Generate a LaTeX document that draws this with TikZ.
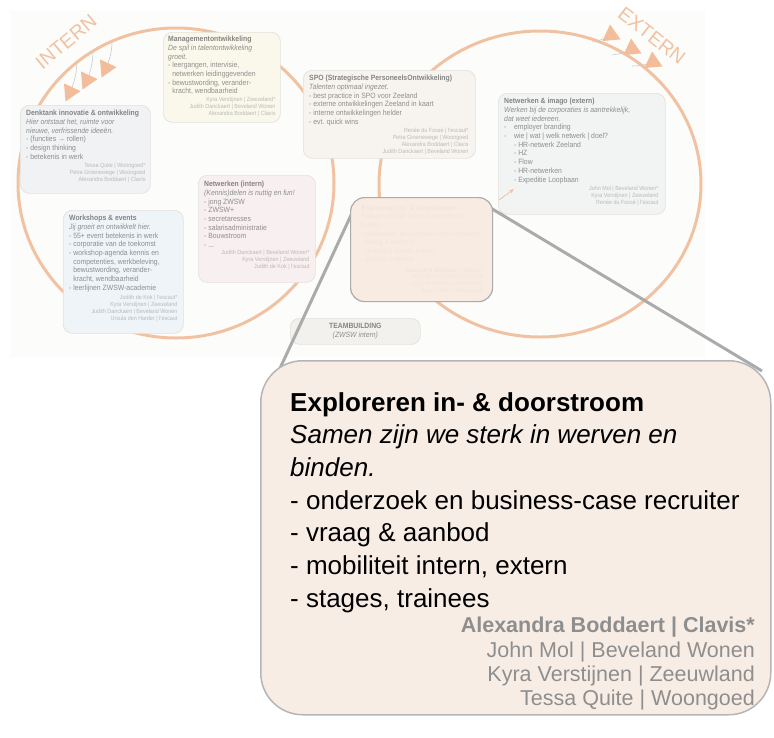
\documentclass[tikz,border=0pt]{standalone}
\usepackage{fontspec}
\setmainfont{Liberation Sans}
\newfontfamily\narrowsans[FakeStretch=0.9]{Liberation Sans}
\usetikzlibrary{shapes.geometric,arrows.meta}
\definecolor{orng}{HTML}{F1C2A2}
\definecolor{trif}{HTML}{F3BD9C}
\definecolor{stemc}{HTML}{C6CCD4}
\definecolor{boxline}{HTML}{E3E1DD}
\definecolor{ttlc}{HTML}{848484}
\definecolor{bodyc}{HTML}{8E8E8E}
\definecolor{namec}{HTML}{BABABA}
\definecolor{peach}{HTML}{F8EDE5}
\definecolor{zoompeach}{HTML}{F8ECE2}
\definecolor{linegrey}{HTML}{ABABAB}
\definecolor{bigline}{HTML}{B5B5B5}
\definecolor{namebig}{HTML}{8E8E8E}
\definecolor{faintc}{HTML}{F3E4D9}
\definecolor{bgc}{HTML}{FCFCFB}
\definecolor{mgmtf}{HTML}{FAF8EA}
\definecolor{denkf}{HTML}{F0F2F3}
\definecolor{spof}{HTML}{F7F4F0}
\definecolor{imagof}{HTML}{F2F3F3}
\definecolor{workf}{HTML}{EEF4F8}
\definecolor{netf}{HTML}{F8F0F0}
\definecolor{teamf}{HTML}{F3F1ED}
\newcommand\boxtitle[1]{{\bfseries\color{ttlc}#1}}
\begin{document}
\begin{tikzpicture}[x=1pt,y=-1pt,
  infobox/.style={draw=boxline, line width=0.7pt, rounded corners=9pt, anchor=north west, inner sep=0pt},
  infotext/.style={anchor=north west, align=left, inner sep=0pt, text=bodyc, font=\narrowsans\fontsize{7.6}{8.7}\selectfont},
  infonames/.style={anchor=north east, align=right, inner sep=0pt, text=namec, font=\narrowsans\fontsize{6}{7}\selectfont},
  tri/.style={regular polygon, regular polygon sides=3, fill=trif, inner sep=0pt, minimum size=21pt},
  stemline/.style={draw=stemc, line width=0.6pt},
  ring/.style={draw=orng, line width=3pt},
  zoomline/.style={draw=linegrey, line width=3pt},
  biglabel/.style={text=orng, inner sep=0pt, font=\fontsize{19.5}{20}\selectfont}
]
\useasboundingbox (0,0) rectangle (774,737);
\fill[bgc] (10,10) rectangle (705,358);

% circles
\draw[ring] (176,183) ellipse [x radius=158, y radius=155];
\draw[ring] (540,184) ellipse [x radius=161, y radius=153];

% labels
\node[biglabel, rotate=40] (intern) at (66,42) {INTERN};
\node[biglabel, rotate=-38] (extern) at (652,36) {EXTERN};

% intern arrows
\coordinate (is1) at (77,63);
\coordinate (is2) at (93,52);
\coordinate (is3) at (112,43);
\coordinate (ic1) at (70,92);
\coordinate (ic2) at (87,80);
\coordinate (ic3) at (106,68);
\draw[stemline] (is1) to[bend left=10] (ic1);
\draw[stemline] (is2) to[bend left=10] (ic2);
\draw[stemline] (is3) to[bend left=10] (ic3);
\node[tri, shape border rotate=155] (it1) at (ic1) {};
\node[tri, shape border rotate=155] (it2) at (ic2) {};
\node[tri, shape border rotate=155] (it3) at (ic3) {};

% extern arrows
\coordinate (es1) at (592,42);
\coordinate (es2) at (612,55);
\coordinate (es3) at (632,66);
\coordinate (ec1) at (611,35);
\coordinate (ec2) at (632,49);
\coordinate (ec3) at (653,62);
\draw[stemline] (es1) to[bend right=10] (ec1);
\draw[stemline] (es2) to[bend right=10] (ec2);
\draw[stemline] (es3) to[bend right=10] (ec3);
\node[tri, shape border rotate=-115] (et1) at (ec1) {};
\node[tri, shape border rotate=-115] (et2) at (ec2) {};
\node[tri, shape border rotate=-115] (et3) at (ec3) {};

% Management
\node[infobox, fill=mgmtf, minimum width=117pt, minimum height=90pt] (mgmt) at (163,32) {};
\node[infotext] (mgmtT) at ([shift={(5pt,-4pt)}]mgmt.north west) {\boxtitle{Managementontwikkeling}\\
\textit{De spil in talentontwikkeling}\\ \textit{groeit.}\\
- leergangen, intervisie,\\ \hphantom{- }netwerken leidinggevenden\\
- bewustwording, verander-\\ \hphantom{- }kracht, wendbaarheid};
\node[infonames] (mgmtN) at ([shift={(-5pt,-2pt)}]mgmtT.south -| mgmt.east) {Kyra Verstijnen | Zeeuwland*\\ Judith Danckaert | Beveland Wonen\\ Alexandra Boddaert | Clavis};

% Denktank
\node[infobox, fill=denkf, minimum width=130pt, minimum height=88pt] (denk) at (20,105) {};
\node[infotext] (denkT) at ([shift={(6pt,-5pt)}]denk.north west) {\boxtitle{Denktank innovatie \& ontwikkeling}\\
\textit{Hier ontstaat het, ruimte voor}\\ \textit{nieuwe, verfrissende ideeën.}\\
- (functies → rollen)\\ - design thinking\\ - betekenis in werk};
\node[infonames] (denkN) at ([shift={(-5pt,-3pt)}]denkT.south -| denk.east) {Tessa Quite | Woongoed*\\ Petra Groenewege | Woongoed\\ Alexandra Boddaert | Clavis};

% SPO
\node[infobox, fill=spof, minimum width=172pt, minimum height=88pt] (spo) at (303,70) {};
\node[infotext] (spoT) at ([shift={(6pt,-5pt)}]spo.north west) {\boxtitle{SPO (Strategische PersoneelsOntwikkeling)}\\
\textit{Talenten optimaal ingezet.}\\
- best practice in SPO voor Zeeland\\ - externe ontwikkelingen Zeeland in kaart\\
- interne ontwikkelingen helder\\ - evt. quick wins};
\node[infonames] (spoN) at ([shift={(-7pt,-2pt)}]spoT.south -| spo.east) {Renée du Fossé | l’escaut*\\ Petra Groenewege | Woongoed\\ Alexandra Boddaert | Clavis\\ Judith Danckaert | Beveland Wonen};

% Netwerken & imago
\node[infobox, fill=imagof, minimum width=167pt, minimum height=121pt] (imago) at (498,93) {};
\node[infotext] (imagoT) at ([shift={(6pt,-5pt)}]imago.north west) {\boxtitle{Netwerken \& imago (extern)}\\
\textit{Werken bij de corporaties is aantrekkelijk,}\\ \textit{dat weet iedereen.}\\
-\quad employer branding\\ -\quad wie | wat | welk netwerk | doel?\\
\hphantom{-\quad}- HR-netwerk Zeeland\\ \hphantom{-\quad}- HZ\\ \hphantom{-\quad}- Flow\\
\hphantom{-\quad}- HR-netwerken\\ \hphantom{-\quad}- Expeditie Loopbaan};
\node[infonames] (imagoN) at ([shift={(-7pt,-2pt)}]imagoT.south -| imago.east) {John Mol | Beveland Wonen*\\ Kyra Verstijnen | Zeeuwland\\ Renée du Fossé | l’escaut};

% Workshops
\node[infobox, fill=workf, minimum width=120pt, minimum height=123pt] (work) at (63,210) {};
\node[infotext] (workT) at ([shift={(6pt,-5pt)}]work.north west) {\boxtitle{Workshops \& events}\\
\textit{Jij groeit en ontwikkelt hier.}\\
- 55+ event betekenis in werk\\ - corporatie van de toekomst\\
- workshop-agenda kennis en\\ \hphantom{- }competenties, werkbeleving,\\
\hphantom{- }bewustwording, verander-\\ \hphantom{- }kracht, wendbaarheid\\
- leerlijnen ZWSW-academie};
\node[infonames] (workN) at ([shift={(-6pt,-3pt)}]workT.south -| work.east) {Judith de Kok | l’escaut*\\ Kyra Verstijnen | Zeeuwland\\ Judith Danckaert | Beveland Wonen\\ Ursula den Harder | l’escaut};

% Netwerken intern
\node[infobox, fill=netf, minimum width=117pt, minimum height=107pt] (net) at (198,175) {};
\node[infotext] (netT) at ([shift={(6pt,-6pt)}]net.north west) {\boxtitle{Netwerken (intern)}\\
\textit{(Kennis)delen is nuttig en fun!}\\
- jong ZWSW\\ - ZWSW+\\ - secretaresses\\ - salarisadministratie\\ - Bouwstroom\\ - ...};
\node[infonames] (netN) at ([shift={(-6pt,-2pt)}]netT.south -| net.east) {Judith Danckaert | Beveland Wonen*\\ Kyra Verstijnen | Zeeuwland\\ Judith de Kok | l’escaut};

% Teambuilding
\node[infobox, fill=teamf, minimum width=130pt, minimum height=26pt] (team) at (290,318) {};
\node[align=center, inner sep=0pt, text=bodyc, font=\narrowsans\fontsize{7.6}{8.7}\selectfont] (teamT) at (team.center) {\boxtitle{TEAMBUILDING}\\ \textit{(ZWSW intern)}};

% small orange arrow
\coordinate (arrS) at (499,200);
\coordinate (arrE) at (514,189);
\draw[orng, line width=0.8pt, -{Stealth[length=5pt,width=4pt]}] (arrS) -- (arrE);

% zoom connector lines
\coordinate (zsL) at (352,213);
\coordinate (bigL) at (263,405);
\coordinate (zsR) at (489,207);
\coordinate (bigR) at (762,371);
\draw[zoomline] (zsL) -- (bigL);
\draw[zoomline] (zsR) -- (bigR);

% small zoomed box
\node[draw=linegrey, line width=1.2pt, fill=zoompeach, rounded corners=14pt, anchor=north west, inner sep=0pt, minimum width=142pt, minimum height=104pt] (zs) at (350,197) {};
\node[anchor=north west, align=left, inner sep=0pt, text=faintc, font=\fontsize{6.9}{8.6}\selectfont] (zsT) at (361,205) {\textbf{Exploreren in- \& doorstroom}\\ \textit{Samen zijn we sterk in werven en}\\ \textit{binden.}\\ - onderzoek en business-case recruiter\\ - vraag \& aanbod\\ - mobiliteit intern, extern\\ - stages, trainees};
\node[anchor=north east, align=right, inner sep=0pt, text=faintc, font=\fontsize{5.7}{6.6}\selectfont] (zsN) at (483,268) {\textbf{Alexandra Boddaert | Clavis*}\\ John Mol | Beveland Wonen\\ Kyra Verstijnen | Zeeuwland\\ Tessa Quite | Woongoed};

% big box
\node[draw=bigline, line width=1.5pt, fill=peach, rounded corners=42pt, anchor=north west, inner sep=0pt, minimum width=510pt, minimum height=354pt] (big) at (260,360) {};
\node[anchor=north west, align=left, inner sep=0pt, font=\fontsize{26}{32.7}\selectfont] (bigT) at (290,392) {\textbf{Exploreren in- \& doorstroom}\\ \textit{Samen zijn we sterk in werven en}\\ \textit{binden.}\\ - onderzoek en business-case recruiter\\ - vraag \& aanbod\\ - mobiliteit intern, extern\\ - stages, trainees};
\node[anchor=north east, align=right, inner sep=0pt, text=namebig, font=\fontsize{21.5}{24.3}\selectfont] (bigN) at (755,617) {\textbf{Alexandra Boddaert | Clavis*}\\ John Mol | Beveland Wonen\\ Kyra Verstijnen | Zeeuwland\\ Tessa Quite | Woongoed};
\end{tikzpicture}
\end{document}
